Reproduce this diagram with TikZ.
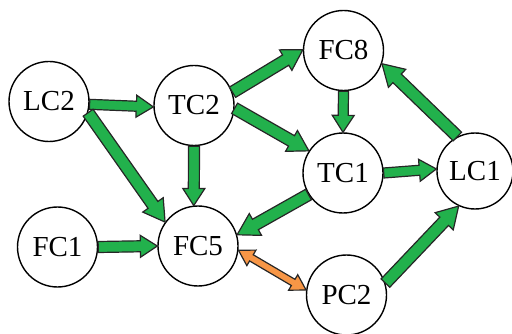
\documentclass[tikz,border=0pt]{standalone}
\usepackage{fontspec}
\setmainfont{Liberation Serif}
\usetikzlibrary{calc}

\definecolor{flowgreen}{RGB}{34,177,76}
\definecolor{flowred}{RGB}{247,150,70}

% Block arrow from #2 to #3: #4 half shaft width, #5 half head width, #6 head length
\newcommand{\blockarrow}[6]{%
  \coordinate (ba-s) at (#2);
  \coordinate (ba-e) at (#3);
  \coordinate (ba-h) at ($(ba-e)!#6!(ba-s)$);
  \draw[#1] ($(ba-s)!#4!90:(ba-e)$) -- ($(ba-h)!#4!90:(ba-e)$)
    -- ($(ba-h)!#5!90:(ba-e)$) -- (ba-e) -- ($(ba-h)!#5!-90:(ba-e)$)
    -- ($(ba-h)!#4!-90:(ba-e)$) -- ($(ba-s)!#4!-90:(ba-e)$) -- cycle;
}
% Block arrow with heads at both ends
\newcommand{\doubleblockarrow}[6]{%
  \coordinate (da-s) at (#2);
  \coordinate (da-e) at (#3);
  \coordinate (da-h) at ($(da-e)!#6!(da-s)$);
  \coordinate (da-t) at ($(da-s)!#6!(da-e)$);
  \draw[#1] (da-s) -- ($(da-t)!#5!-90:(da-e)$) -- ($(da-t)!#4!-90:(da-e)$)
    -- ($(da-h)!#4!90:(da-s)$) -- ($(da-h)!#5!90:(da-s)$) -- (da-e)
    -- ($(da-h)!#5!-90:(da-s)$) -- ($(da-h)!#4!-90:(da-s)$)
    -- ($(da-t)!#4!90:(da-e)$) -- ($(da-t)!#5!90:(da-e)$) -- cycle;
}

\tikzset{
  loop/.style={circle, draw=black, line width=1.4pt, fill=white, inner sep=0pt,
    minimum size=80pt, font=\fontsize{29}{31}\selectfont},
  greenarrow/.style={fill=flowgreen, draw=black!85, line width=1.2pt, line join=miter},
  orangearrow/.style={fill=flowred, draw=black!85, line width=1.2pt, line join=miter},
}

\begin{document}
\begin{tikzpicture}[x=1pt, y=-1pt]
  \useasboundingbox (0,0) rectangle (512,334);

  \node[loop] (lc2) at (49,101.5) {LC2};
  \node[loop] (tc2) at (194,105.5) {TC2};
  \node[loop] (fc8) at (343.5,50.5) {FC8};
  \node[loop] (tc1) at (343,173) {TC1};
  \node[loop, minimum size=76pt] (lc1) at (475,171) {LC1};
  \node[loop] (fc1) at (57.5,247) {FC1};
  \node[loop] (fc5) at (198,246) {FC5};
  \node[loop] (pc2) at (346.5,295) {PC2};

  \blockarrow{greenarrow}{lc2.-4}{tc2.182}{5pt}{11pt}{17pt}
  \blockarrow{greenarrow}{lc2.-16}{fc5.144}{6pt}{12.5pt}{21pt}
  \blockarrow{greenarrow}{tc2.-90}{fc5.96}{5.5pt}{11pt}{17pt}
  \blockarrow{greenarrow}{tc2.19}{fc8.179}{6pt}{12pt}{20pt}
  \blockarrow{greenarrow}{tc2.-4}{tc1.147}{6pt}{12pt}{20pt}
  \blockarrow{greenarrow}{fc8.-90}{tc1.90}{5pt}{11pt}{17pt}
  \blockarrow{greenarrow}{lc1.117}{fc8.-19}{6pt}{12.5pt}{21pt}
  \blockarrow{greenarrow}{tc1.0}{lc1.177}{5pt}{11pt}{17pt}
  \blockarrow{greenarrow}{tc1.212}{fc5.16}{6pt}{12.5pt}{21pt}
  \blockarrow{greenarrow}{pc2.17}{lc1.245}{6pt}{12.5pt}{21pt}
  \blockarrow{greenarrow}{fc1.0}{fc5.180}{5.5pt}{11pt}{17pt}
  \doubleblockarrow{orangearrow}{fc5.-6}{pc2.173}{3.6pt}{9pt}{15pt}
\end{tikzpicture}
\end{document}
